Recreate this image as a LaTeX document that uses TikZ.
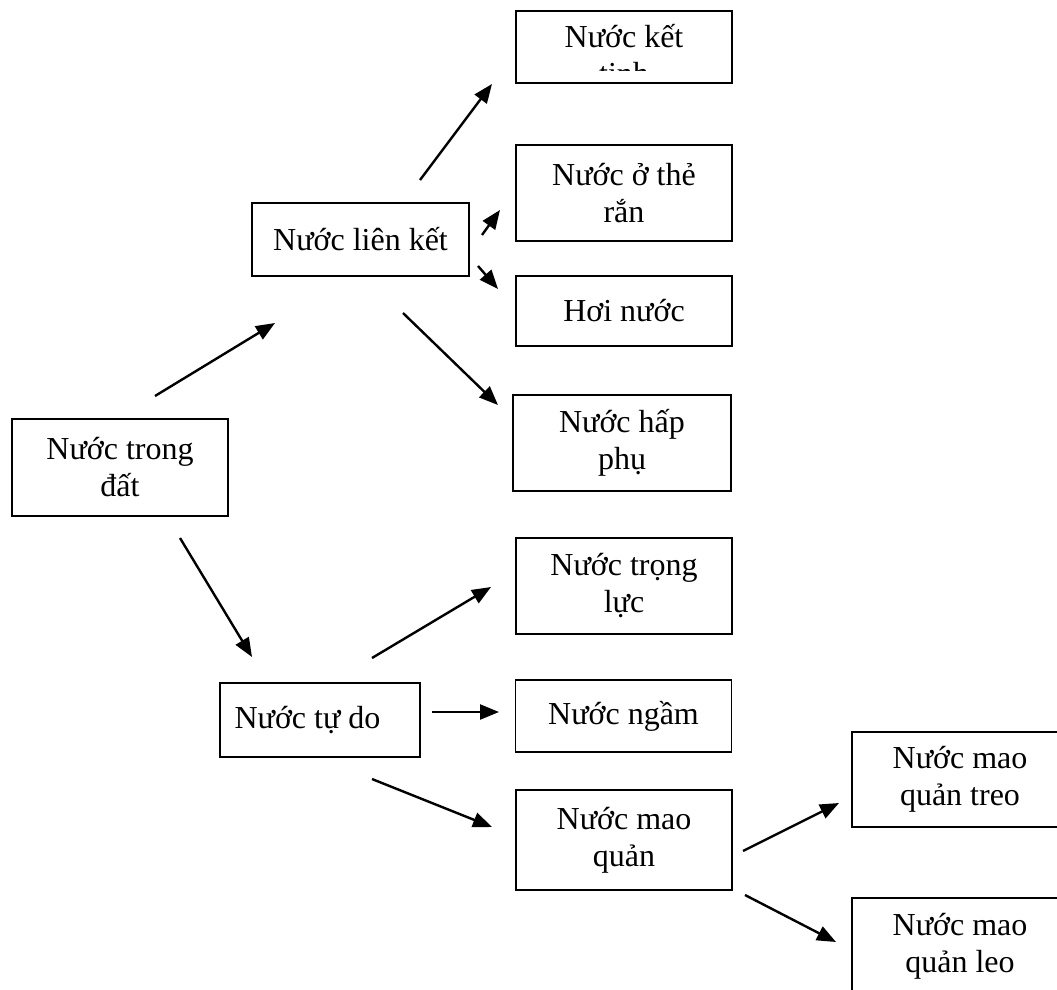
\documentclass[tikz,border=0pt]{standalone}
\usepackage{fontspec}
\setmainfont{Liberation Serif}
\usetikzlibrary{arrows.meta}
\begin{document}
\begin{tikzpicture}[x=1pt,y=-1pt,
  box/.style={draw,line width=1.6pt,minimum width=216pt,inner sep=0pt,align=center,
    font=\fontsize{32}{37}\selectfont},
  arr/.style={line width=2.4pt,-{Triangle[length=19pt,width=15pt]}}]
\useasboundingbox (0,0) rectangle (1057,990);
% boxes
\node[box,minimum height=97pt] (trongdat) at (120,467.5) {Nước trong\\đất};
\node[box,minimum width=217pt,minimum height=73pt] (lienket) at (360.5,239.5) {Nước liên kết};
\node[box,minimum width=200pt,minimum height=74pt] (tudo) at (320,720) {Nước tự do\hspace{25pt}};
\node[box,minimum height=72pt] (kettinh) at (624,47) {};
\begin{scope}
\clip (516,11) rectangle (732,71);
\node[box,draw=none] (kettinhtxt) at (624,54.5) {Nước kết\\tinh};
\end{scope}
\node[box,minimum height=96pt] (thoran) at (624,193) {Nước ở thẻ\\rắn};
\node[box,minimum height=70pt] (hoinuoc) at (624,311) {Hơi nước};
\node[box,minimum width=218pt,minimum height=96pt] (happhu) at (622,443) {Nước hấp\\phụ};
\node[box,minimum height=96pt] (trongluc) at (624,586) {Nước trọng\\lực};
\node[box,minimum height=72pt] (ngam) at (623.5,716) {Nước ngầm};
\node[box,minimum height=100pt] (maoquan) at (624,840) {Nước mao\\quản};
\node[box,minimum height=95pt] (treo) at (960,779.5) {Nước mao\\quản treo};
\node[box,minimum height=96pt] (leo) at (960,946) {Nước mao\\quản leo};
% arrow ends
\coordinate (a1) at (155,396);   \coordinate (b1) at (275,323);
\coordinate (a2) at (180,538);   \coordinate (b2) at (252,657);
\coordinate (a3) at (420,180);   \coordinate (b3) at (492,84);
\coordinate (a4) at (482,235);   \coordinate (b4) at (500,210);
\coordinate (a5) at (478,266);   \coordinate (b5) at (498,289);
\coordinate (a6) at (403,313);   \coordinate (b6) at (498,405);
\coordinate (a7) at (372,658);   \coordinate (b7) at (491,587);
\coordinate (a8) at (432,712);   \coordinate (b8) at (499,712);
\coordinate (a9) at (372,779);   \coordinate (b9) at (492,827);
\coordinate (a10) at (743,851);  \coordinate (b10) at (839,803);
\coordinate (a11) at (745,895);  \coordinate (b11) at (836,942);
% arrows
\draw[arr] (a1) -- (b1);
\draw[arr] (a2) -- (b2);
\draw[arr] (a3) -- (b3);
\draw[arr] (a4) -- (b4);
\draw[arr] (a5) -- (b5);
\draw[arr] (a6) -- (b6);
\draw[arr] (a7) -- (b7);
\draw[arr] (a8) -- (b8);
\draw[arr] (a9) -- (b9);
\draw[arr] (a10) -- (b10);
\draw[arr] (a11) -- (b11);
\end{tikzpicture}
\end{document}
